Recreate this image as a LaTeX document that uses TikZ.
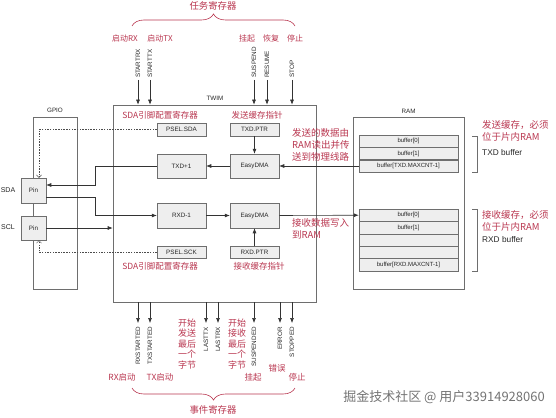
\documentclass[tikz,border=0pt]{standalone}
\usepackage{fontspec}
\setmainfont{Liberation Sans}
\newfontfamily\cjk{Noto Sans CJK SC}
\usetikzlibrary{arrows.meta,decorations.pathreplacing}
\definecolor{redlab}{RGB}{185,55,80}
\definecolor{boxfill}{RGB}{238,238,238}
\definecolor{edge}{RGB}{110,110,110}
\begin{document}
\begin{tikzpicture}[x=1pt,y=-1pt,
 lab/.style={font=\fontsize{6.3}{7}\selectfont, text=black!85, inner sep=0pt},
 rot/.style={lab, rotate=90},
 big/.style={draw=edge, line width=0.6pt, fill=white, inner sep=0pt},
 blk/.style={draw=edge, line width=0.5pt, fill=boxfill, inner sep=0pt, font=\fontsize{6.3}{7}\selectfont, text=black!85},
 buf/.style={blk, minimum width=99pt, minimum height=12.4pt, font=\fontsize{6}{7}\selectfont},
 arr/.style={draw=black!80, line width=0.6pt, -{Latex[length=5pt,width=4pt]}},
 dsh/.style={draw=black!70, line width=0.5pt, dash pattern=on 1.5pt off 1.2pt, -{Straight Barb[length=2.5pt,width=5pt]}},
 rl/.style={text=redlab, font=\cjk\fontsize{8.5}{10}\selectfont, inner sep=0pt},
 rr/.style={text=redlab, font=\cjk\fontsize{9.5}{12}\selectfont, inner sep=0pt, anchor=west},
 brc/.style={draw=redlab, line width=0.6pt, decorate},
]
\useasboundingbox (0,0) rectangle (556,417);

% big boxes
\node[big, minimum width=203pt, minimum height=197pt] (twim) at (214.5,203.5) {};
\node[lab] (twimlab) at (215,98) {TWIM};
\node[big, minimum width=44pt, minimum height=172pt] (gpio) at (55,203) {};
\node[lab] (gpiolab) at (55,110) {GPIO};
\node[big, minimum width=111pt, minimum height=172pt] (ram) at (408.5,203) {};
\node[lab] (ramlab) at (408.5,111) {RAM};

% pins
\node[blk, minimum width=25pt, minimum height=25pt] (sdapin) at (33.5,190.5) {Pin};
\node[blk, minimum width=25pt, minimum height=24pt] (sclpin) at (33.5,228) {Pin};
\node[lab, font=\fontsize{7}{8}\selectfont] (sdalab) at (8,190) {SDA};
\node[lab, font=\fontsize{7}{8}\selectfont] (scllab) at (8,227) {SCL};

% inner blocks
\node[blk, minimum width=49pt, minimum height=13pt] (pselsda) at (181.5,129.5) {PSEL.SDA};
\node[blk, minimum width=49pt, minimum height=13pt] (txdptr) at (254.5,129.5) {TXD.PTR};
\node[blk, minimum width=49pt, minimum height=24pt] (txd1) at (181.5,166) {TXD+1};
\node[blk, minimum width=49pt, minimum height=24pt] (dmatx) at (254.5,166) {EasyDMA};
\node[blk, minimum width=49pt, minimum height=25pt] (rxd1) at (181.5,215.5) {RXD-1};
\node[blk, minimum width=49pt, minimum height=25pt] (dmarx) at (254.5,215.5) {EasyDMA};
\node[blk, minimum width=49pt, minimum height=12pt] (pselsck) at (181.5,252.5) {PSEL.SCK};
\node[blk, minimum width=49pt, minimum height=12pt] (rxdptr) at (254.5,252.5) {RXD.PTR};

% red labels inside TWIM
\node[rl] (l1) at (160,115) {SDA引脚配置寄存器};
\node[rl] (l2) at (257,115) {发送缓存指针};
\node[rl] (l3) at (160,266) {SDA引脚配置寄存器};
\node[rl] (l4) at (259,266) {接收缓存指针};
\node[rr] (l5a) at (292,133) {发送的数据由};
\node[rr] (l5b) at (292,145) {RAM读出并传};
\node[rr] (l5c) at (292,157) {送到物理线路};
\node[rr] (l6a) at (292,223) {接收数据写入};
\node[rr] (l6b) at (292,235) {到RAM};

% RAM buffers
\node[buf] (tx0) at (408.5,141) {buffer[0]};
\node[buf] (tx1) at (408.5,153.5) {buffer[1]};
\node[buf] (txl) at (408.5,166) {buffer[TXD.MAXCNT-1]};
\node[buf] (rx0) at (408.5,215.2) {buffer[0]};
\node[buf] (rx1) at (408.5,227.6) {buffer[1]};
\node[buf] (rx2) at (408.5,240) {};
\node[buf] (rx3) at (408.5,252.4) {};
\node[buf] (rxl) at (408.5,264.8) {buffer[RXD.MAXCNT-1]};

% right brackets and labels
\draw[draw=edge, line width=0.6pt] (472,136) -- (477,136) -- (477,172) -- (472,172);
\draw[draw=edge, line width=0.6pt] (472,209) -- (477,209) -- (477,271) -- (472,271);
\node[rr] (r1) at (482,125) {发送缓存，必须};
\node[rr] (r2) at (482,137) {位于片内RAM};
\node[lab, anchor=west, font=\fontsize{8.3}{10}\selectfont] (r3) at (482,153) {TXD buffer};
\node[rr] (r4) at (482,215) {接收缓存，必须};
\node[rr] (r5) at (482,227) {位于片内RAM};
\node[lab, anchor=west, font=\fontsize{8.3}{10}\selectfont] (r6) at (482,240) {RXD buffer};

% data path
\draw[arr] (txl.west) -- (dmatx.east);
\draw[arr] (dmatx.west) -- (txd1.east);
\draw[arr] (txd1.west) -- (95,166) |- ([yshift=5.5pt]sdapin.east);
\draw[arr] ([yshift=-6.5pt]sdapin.east) -| (95,215.5) -- (rxd1.west);
\draw[arr] (sclpin.east) -- (sclpin.east -| twim.west);
\draw[arr] (rxd1.east) -- (dmarx.west);
\draw[arr] (dmarx.east) -- (rx0.west);
\draw[arr] (txdptr.south) -- (dmatx.north);
\draw[arr] (rxdptr.north) -- (dmarx.south);
\draw[dsh] (pselsda.west) -| ([xshift=5.5pt]sdapin.north);
\draw[dsh] (pselsck.west) -| ([xshift=5.5pt]sclpin.south);

% task inputs
\foreach \n/\x/\t in {trx/138/STARTRX, ttx/150/STARTTX, tsus/254/SUSPEND, tres/267/RESUME, tstop/292/STOP}{
  \coordinate (\n) at (\x,80);
  \draw[arr] (\n) -- (\n |- twim.north);
  \node[rot, anchor=west] (\n lab) at (\x,78) {\t};
}
\node[rl, font=\cjk\fontsize{8}{10}\selectfont] (tl1) at (125,38) {启动RX};
\node[rl, font=\cjk\fontsize{8}{10}\selectfont] (tl2) at (160,38) {启动TX};
\node[rl, font=\cjk\fontsize{8}{10}\selectfont] (tl3) at (247,38) {挂起};
\node[rl, font=\cjk\fontsize{8}{10}\selectfont] (tl4) at (271,38) {恢复};
\node[rl, font=\cjk\fontsize{8}{10}\selectfont] (tl5) at (295,38) {停止};
\draw[brc, decoration={brace, amplitude=12pt}] (132,26) -- (295,26);
\node[rl, font=\cjk\fontsize{9.4}{11}\selectfont] (tasks) at (213,6) {任务寄存器};

% event outputs
\foreach \n/\x/\t in {erxs/138/RXSTARTED, etxs/150/TXSTARTED, eltx/206/LASTTX, elrx/218/LASTRX, esus/254/SUSPENDED, eerr/280/ERROR, estop/292/STOPPED}{
  \coordinate (\n) at (\x,323);
  \draw[arr] (\n |- twim.south) -- (\n);
  \node[rot, anchor=east] (\n lab) at (\x,327) {\t};
}
\node[rl, font=\cjk\fontsize{9}{10.5}\selectfont, align=center] (el1) at (187,344) {开始\\发送\\最后\\一个\\字节};
\node[rl, font=\cjk\fontsize{9}{10.5}\selectfont, align=center] (el2) at (237,344) {开始\\接收\\最后\\一个\\字节};
\node[rl, font=\cjk\fontsize{8.5}{10}\selectfont] (bl1) at (122,377) {RX启动};
\node[rl, font=\cjk\fontsize{8.5}{10}\selectfont] (bl2) at (160,377) {TX启动};
\node[rl, font=\cjk\fontsize{8.5}{10}\selectfont] (bl3) at (253,377) {挂起};
\node[rl, font=\cjk\fontsize{8.5}{10}\selectfont] (bl4) at (277,368) {错误};
\node[rl, font=\cjk\fontsize{8.5}{10}\selectfont] (bl5) at (297,377) {停止};
\draw[brc, decoration={brace, mirror, amplitude=12pt}] (132,388) -- (295,388);
\node[rl, font=\cjk\fontsize{9.4}{11}\selectfont] (events) at (213,410) {事件寄存器};

% watermark
\node[anchor=east, text=black!55, font=\cjk\fontsize{13}{15}\selectfont, inner sep=0pt] (wm) at (545,397) {掘金技术社区 @ 用户33914928060};
\end{tikzpicture}
\end{document}
